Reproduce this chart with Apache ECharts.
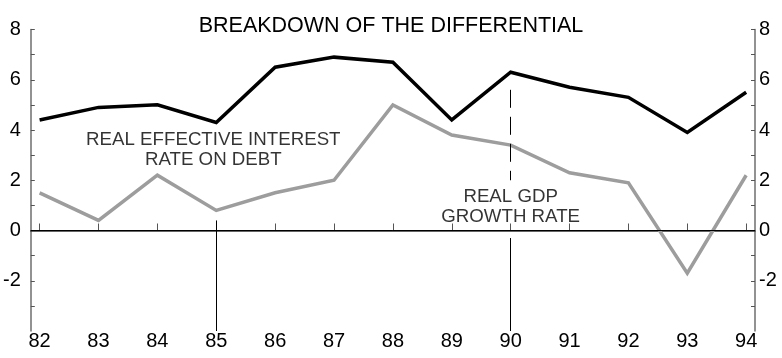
<!DOCTYPE html>
<html>
<head>
<meta charset="utf-8">
<script src="https://cdn.jsdelivr.net/npm/echarts@6/dist/echarts.min.js"></script>
<style>
  html, body { margin: 0; padding: 0; background: #fff; }
  #chart { width: 782px; height: 358px; }
</style>
</head>
<body>
<div id="chart"></div>
<script>
// Years on the horizontal axis
const years = [82, 83, 84, 85, 86, 87, 88, 89, 90, 91, 92, 93, 94];

// Real effective interest rate on debt (%)
const interestRate = [4.4, 4.9, 5.0, 4.3, 6.5, 6.9, 6.7, 4.4, 6.3, 5.7, 5.3, 3.9, 5.5];

// Real GDP growth rate (%)
const gdpGrowth = [1.5, 0.4, 2.2, 0.8, 1.5, 2.0, 5.0, 3.8, 3.4, 2.3, 1.9, -1.7, 2.2];

// Value-axis tick labels
const yTickLabels = [8, 6, 4, 2, 0, -2];

// Leader lines for the two annotations: [x, yFrom, yTo, dashed]
const leaders = [
  [85, 0.4, -4, false],
  [90, 5.6, 2.0, true],
  [90, -0.3, -4, false]
];

// Annotation labels: [text, x, y]
const notes = [
  ['REAL EFFECTIVE INTEREST\nRATE ON DEBT', 84.95, 3.22],
  ['REAL GDP\nGROWTH RATE', 90.0, 0.95]
];

const FONT = 'Liberation Sans, Arial, Helvetica, sans-serif';

const chart = echarts.init(document.getElementById('chart'), null, { renderer: 'canvas' });

const yAxisBase = {
  type: 'value',
  min: -4,
  max: 8,
  interval: 1,
  splitLine: { show: false },
  axisLine: { show: true, lineStyle: { color: '#6e6e6e', width: 1.5 } },
  axisTick: { show: true, inside: true, length: 4, lineStyle: { color: '#555', width: 1 } },
  axisLabel: {
    showMinLabel: false,
    color: '#000',
    fontFamily: FONT,
    fontSize: 20,
    formatter: v => (yTickLabels.indexOf(v) >= 0 ? String(v) : '')
  }
};

chart.setOption({
  animation: false,
  backgroundColor: '#fff',
  title: {
    text: 'BREAKDOWN OF THE DIFFERENTIAL',
    left: 'center',
    top: 10,
    textStyle: { fontFamily: FONT, fontSize: 21.5, fontWeight: 'normal', color: '#000' }
  },
  grid: { left: 29, right: 27, top: 29.5, bottom: 27 },
  xAxis: {
    type: 'value',
    min: 81.85,
    max: 94.15,
    splitLine: { show: false },
    axisLine: { show: true, lineStyle: { color: '#333', width: 1.5 } },
    axisTick: { show: true, inside: true, length: 7, customValues: years, lineStyle: { color: '#555', width: 1 } },
    axisLabel: {
      customValues: years,
      margin: 0,
      color: '#000',
      fontFamily: FONT,
      fontSize: 20,
      formatter: v => String(v)
    }
  },
  yAxis: [
    Object.assign({}, yAxisBase, { position: 'left', axisLabel: Object.assign({}, yAxisBase.axisLabel, { margin: 10 }) }),
    Object.assign({}, yAxisBase, { position: 'right', axisLabel: Object.assign({}, yAxisBase.axisLabel, { margin: 4 }) })
  ],
  series: [
    {
      name: 'zero',
      type: 'line',
      data: [],
      markLine: {
        silent: true,
        symbol: 'none',
        label: { show: false },
        lineStyle: { color: '#000', width: 1, type: 'solid' },
        data: [{ yAxis: 0 }]
      }
    },
    {
      name: 'leaders',
      type: 'line',
      data: [],
      markLine: {
        silent: true,
        symbol: 'none',
        label: { show: false },
        data: leaders.map(l => [
          { coord: [l[0], l[1]], lineStyle: { color: '#000', width: 1, type: l[3] ? [18, 9] : 'solid' } },
          { coord: [l[0], l[2]] }
        ])
      }
    },
    {
      name: 'REAL GDP GROWTH RATE',
      type: 'line',
      data: years.map((y, i) => [y, gdpGrowth[i]]),
      symbol: 'none',
      lineStyle: { color: '#9d9d9d', width: 3.5, join: 'miter' },
      z: 3
    },
    {
      name: 'REAL EFFECTIVE INTEREST RATE ON DEBT',
      type: 'line',
      data: years.map((y, i) => [y, interestRate[i]]),
      symbol: 'none',
      lineStyle: { color: '#000', width: 3.5, join: 'miter' },
      z: 4
    },
    {
      name: 'notes',
      type: 'scatter',
      symbolSize: 0,
      data: notes.map(n => ({ value: [n[1], n[2]], name: n[0] })),
      label: {
        show: true,
        position: 'inside',
        formatter: p => p.name,
        color: '#000',
        fontFamily: FONT,
        fontSize: 18.7,
        lineHeight: 20,
        align: 'center',
        verticalAlign: 'middle'
      },
      z: 5
    }
  ]
});
</script>
</body>
</html>
